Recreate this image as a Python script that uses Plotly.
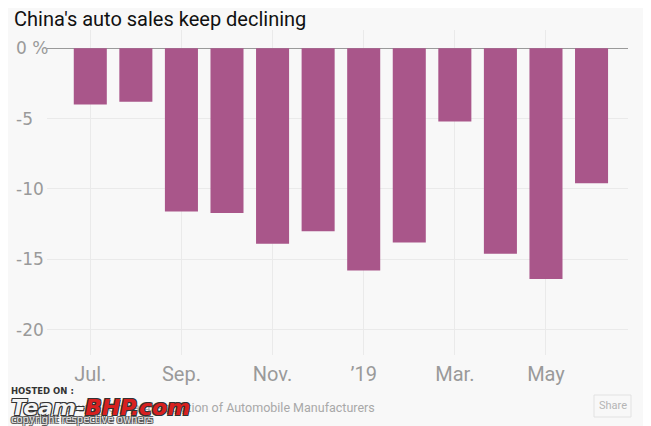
import plotly.graph_objects as go

months = ["2018-07", "2018-08", "2018-09", "2018-10", "2018-11", "2018-12",
          "2019-01", "2019-02", "2019-03", "2019-04", "2019-05", "2019-06"]
sales_change = [-4.0, -3.8, -11.6, -11.7, -13.9, -13.0,
                -15.8, -13.8, -5.2, -14.6, -16.4, -9.6]

x_tick_vals = ["2018-07", "2018-09", "2018-11", "2019-01", "2019-03", "2019-05"]
x_tick_text = ["Jul.", "Sep.", "Nov.", "\u201919", "Mar.", "May"]
y_tick_vals = [0, -5, -10, -15, -20]
y_tick_text = ["0 %", "-5", "-10", "-15", "-20"]

BG = "#f8f8f8"
BAR = "#a9568a"
GRID = "#eaeaea"
LABEL = "#9a9a9a"

# page has an 8px body margin; work in page pixel coordinates
OFF = 8
W, H = 651 - OFF, 426 - OFF
PL, PR, PT, PB = 47, 628, 30, 355   # plot area in page pixels
L, R, T, B = PL - OFF, W - (PR - OFF), PT - OFF, H - (PB - OFF)
pw = W - L - R
ph = H - T - B


def px(pix):
    return (pix - OFF - L) / pw


def py(pix):
    return (H - B - (pix - OFF)) / ph


fig = go.Figure()
fig.add_trace(go.Bar(x=months, y=sales_change, marker=dict(color=BAR, line=dict(width=0)),
                     hoverinfo="skip"))

fig.update_layout(
    width=W, height=H,
    margin=dict(l=L, r=R, t=T, b=B),
    paper_bgcolor=BG, plot_bgcolor=BG,
    bargap=0.275,
    showlegend=False,
    font=dict(family="Roboto", color=LABEL),
    xaxis=dict(type="category", range=[-0.95, 11.8],
               tickmode="array", tickvals=x_tick_vals, ticktext=x_tick_text,
               showgrid=True, gridcolor=GRID, gridwidth=1,
               tickfont=dict(family="Roboto", size=20, color=LABEL),
               ticks="", ticklabelstandoff=5, zeroline=False, showline=False),
    yaxis=dict(range=[-21.8, 1.3], tickmode="array", tickvals=y_tick_vals,
               showticklabels=False, showgrid=True, gridcolor=GRID, gridwidth=1,
               zeroline=True, zerolinecolor="#9a9a9a", zerolinewidth=1, showline=False),
)

# y tick labels, left-aligned
for v, t in zip(y_tick_vals, y_tick_text):
    fig.add_annotation(x=px(14), xref="paper", xanchor="left",
                       y=v, yref="y", yanchor="middle", text=t, showarrow=False,
                       font=dict(family="DejaVu Sans", size=17, color=LABEL))

# title
fig.add_annotation(x=px(12), xref="paper", xanchor="left",
                   y=py(18.5), yref="paper", yanchor="middle", text="China's auto sales keep declining",
                   showarrow=False, font=dict(family="Roboto", size=20, color="#111111"))

# source text
fig.add_annotation(x=px(377), xref="paper", xanchor="right", y=py(407), yref="paper",
                   yanchor="middle", text="Source: China Association of Automobile Manufacturers",
                   showarrow=False, font=dict(family="Roboto", size=12.5, color="#a8a8a8"))

# share button
fig.add_shape(type="rect", xref="paper", yref="paper", x0=px(594), x1=px(631),
              y0=py(417), y1=py(395), line=dict(color="#e2e2e2", width=1), fillcolor=BG)
fig.add_annotation(x=px(612.5), xref="paper", xanchor="center", y=py(405.5), yref="paper",
                   yanchor="middle", text="Share", showarrow=False,
                   font=dict(family="Roboto", size=11, color="#b5b5b5"))

# watermark
outline = "1px 1px 0 #333, -1px -1px 0 #333, 1px -1px 0 #333, -1px 1px 0 #333"
fig.add_annotation(x=px(9), xref="paper", xanchor="left", y=py(391), yref="paper",
                   yanchor="middle", text="<b>HOSTED ON :</b>", showarrow=False,
                   font=dict(family="DejaVu Sans", size=8.5, color="#333333"))
fig.add_annotation(x=px(9), xref="paper", xanchor="left", y=py(407), yref="paper",
                   yanchor="middle",
                   text="<b><i><span style='color:#f4f4f4'>Team-</span>BHP.com</i></b>",
                   showarrow=False,
                   font=dict(family="DejaVu Sans", size=22, color="#d8201f", shadow=outline))
fig.add_annotation(x=px(9), xref="paper", xanchor="left", y=py(419), yref="paper",
                   yanchor="middle", text="copyright respective owners", showarrow=False,
                   font=dict(family="DejaVu Sans", size=10, color="#e0e0e0",
                             shadow="1px 1px 0 #555, -1px -1px 0 #555, 1px -1px 0 #555, -1px 1px 0 #555"))

fig.write_html("out.html")
